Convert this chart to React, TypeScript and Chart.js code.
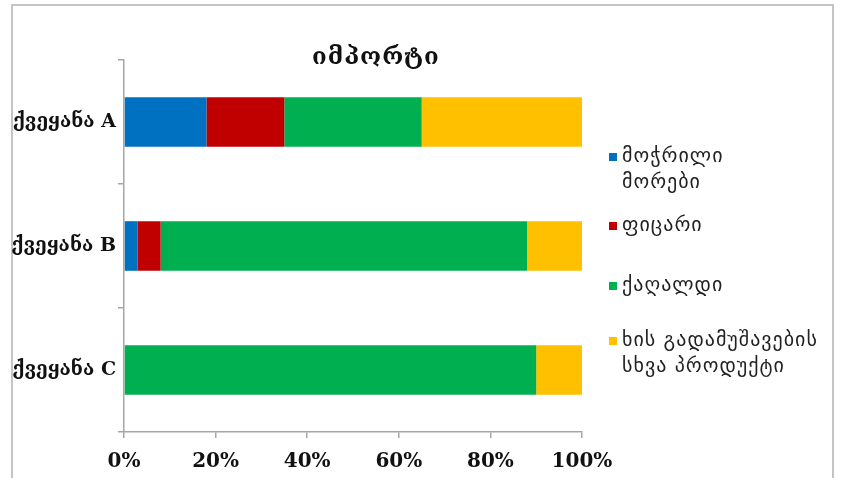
import React, { useEffect, useRef } from "react";
import { Chart, registerables } from "chart.js";

Chart.register(...registerables);

const title = "იმპორტი";
const categories = ["ქვეყანა A", "ქვეყანა B", "ქვეყანა C"];
const seriesNames = [
  ["მოჭრილი", "მორები"],
  ["ფიცარი"],
  ["ქაღალდი"],
  ["ხის გადამუშავების", "სხვა პროდუქტი"],
];
const seriesColors = ["#0070C0", "#C00000", "#00B050", "#FFC000"];
const logs = [18, 3, 0];
const boards = [17, 5, 0];
const paper = [30, 80, 90];
const otherProducts = [35, 12, 10];
const xTicks = [0, 20, 40, 60, 80, 100];

const serif = "'DejaVu Serif', 'Liberation Serif', serif";
const sans = "'DejaVu Sans', sans-serif";

const overlayPlugin = {
  id: "overlay",
  afterDraw(chart: any) {
    const ctx = chart.ctx;
    const area = chart.chartArea;
    ctx.save();
    // title
    ctx.fillStyle = "#111";
    ctx.font = `bold 24px ${serif}`;
    (ctx as any).letterSpacing = "1px";
    ctx.textAlign = "center";
    ctx.textBaseline = "middle";
    ctx.fillText(title, area.left + (area.right - area.left) * 0.55, area.top - 2);
    // legend
    const lx = area.right + 27;
    const itemTops = [157, 226, 286, 341];
    ctx.font = `20px ${sans}`;
    (ctx as any).letterSpacing = "1px";
    ctx.textAlign = "left";
    chart.data.datasets.forEach((ds: any, i: number) => {
      const y0 = itemTops[i];
      ctx.fillStyle = ds.backgroundColor;
      ctx.fillRect(lx, y0 - 4, 8, 8);
      ctx.fillStyle = "#222";
      const lines: string[] = Array.isArray(ds.legendLines) ? ds.legendLines : [ds.label];
      lines.forEach((ln, j) => ctx.fillText(ln, lx + 13, y0 + j * 26));
    });
    ctx.restore();
  },
};

export default function App() {
  const ref = useRef<HTMLCanvasElement | null>(null);
  useEffect(() => {
    if (!ref.current) return;
    const data = [logs, boards, paper, otherProducts];
    const chart = new Chart(ref.current, {
      type: "bar",
      data: {
        labels: categories,
        datasets: data.map((d, i) => ({
          label: seriesNames[i].join(" "),
          legendLines: seriesNames[i],
          data: d,
          backgroundColor: seriesColors[i],
          borderWidth: 0,
          barPercentage: 0.4,
          categoryPercentage: 1,
        })) as any,
      },
      options: {
        indexAxis: "y",
        animation: false,
        responsive: false,
        maintainAspectRatio: false,
        layout: { padding: { left: 12, right: 261, top: 60, bottom: 0 } },
        plugins: {
          legend: { display: false },
          title: { display: false },
          tooltip: { enabled: false },
        },
        scales: {
          x: {
            stacked: true,
            min: 0,
            max: 100,
            afterBuildTicks: (scale: any) => {
              scale.ticks = xTicks.map((v) => ({ value: v }));
            },
            afterFit: (scale: any) => {
              scale.height = 46;
            },
            border: { display: true, color: "#a6a6a6", width: 1.5 },
            grid: { drawOnChartArea: false, drawTicks: true, tickLength: 6, color: "#a6a6a6", lineWidth: 1.5 },
            ticks: {
              callback: (v: any) => v + "%",
              color: "#111",
              font: { family: serif, size: 20, weight: "bold" },
              padding: 12,
              maxRotation: 0,
            },
          },
          y: {
            stacked: true,
            afterFit: (scale: any) => {
              scale.width = 112;
            },
            border: { display: true, color: "#a6a6a6", width: 1.5 },
            grid: { drawOnChartArea: false, drawTicks: true, tickLength: 6, color: "#a6a6a6", lineWidth: 1.5, offset: true },
            ticks: {
              color: "#111",
              font: { family: serif, size: 19, weight: "bold" },
              padding: 2,
            },
          },
        },
      } as any,
      plugins: [overlayPlugin],
    });
    return () => chart.destroy();
  }, []);
  return (
    <div style={{ position: "fixed", left: 0, top: 0, width: 843, height: 478, background: "#fff", overflow: "hidden" }}>
      <div
        style={{
          position: "absolute",
          left: 11,
          top: 4,
          width: 823,
          height: 490,
          border: "2px solid #c4c4c4",
          boxSizing: "border-box",
        }}
      />
      <canvas ref={ref} width={843} height={478} style={{ position: "absolute", left: 0, top: 0, width: 843, height: 478 }} />
    </div>
  );
}
